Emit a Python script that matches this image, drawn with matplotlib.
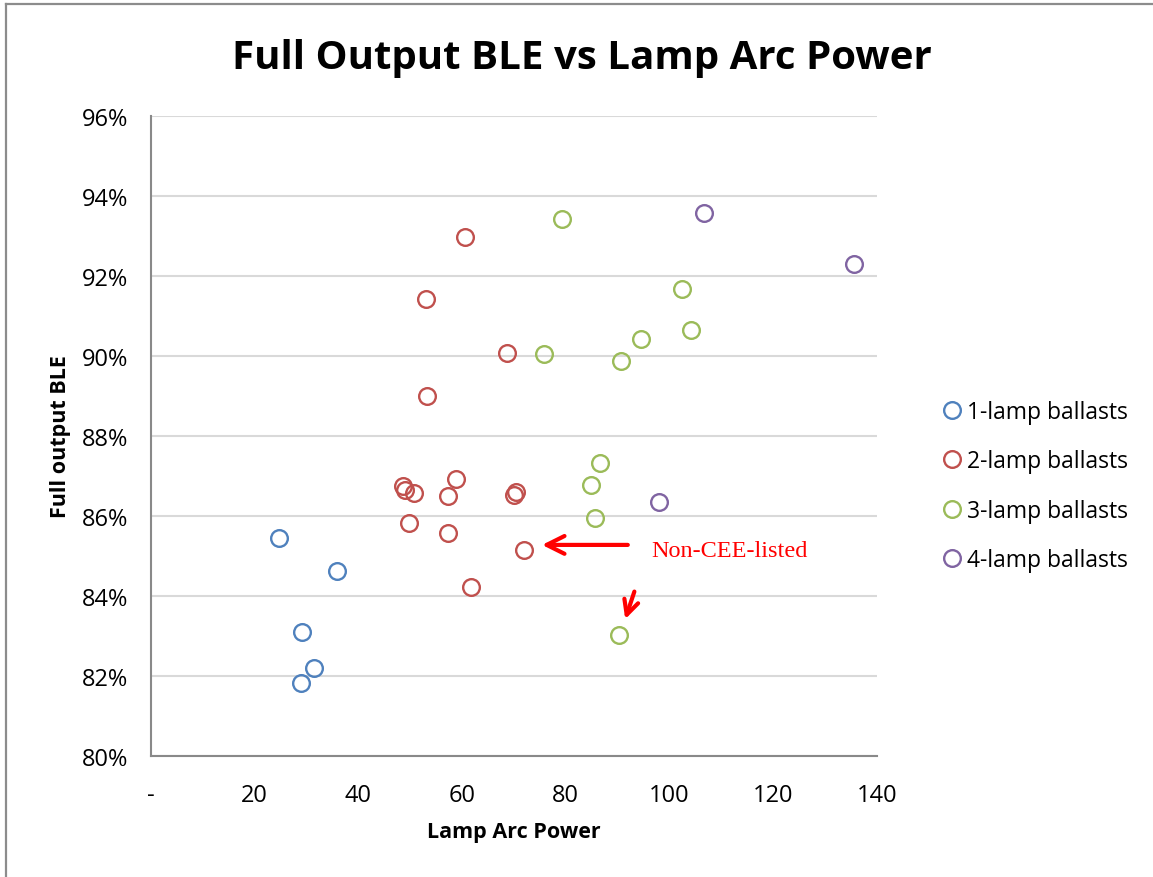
import matplotlib
matplotlib.use("Agg")
import matplotlib.pyplot as plt
from matplotlib.lines import Line2D
from matplotlib.ticker import FuncFormatter

# ---- data ----
series_names = ["1-lamp ballasts", "2-lamp ballasts", "3-lamp ballasts", "4-lamp ballasts"]
series_colors = ["#4F81BD", "#C0504D", "#9BBB59", "#8064A2"]

one_lamp_x = [24.8, 35.9, 29.2, 31.4, 29.0]
one_lamp_y = [85.46, 84.63, 83.11, 82.21, 81.83]

two_lamp_x = [60.6, 53.0, 68.7, 53.2, 48.7, 49.1, 50.8, 58.8, 57.4, 70.5, 70.1, 49.7, 57.4, 72.0, 61.7]
two_lamp_y = [92.98, 91.41, 90.07, 89.00, 86.76, 86.66, 86.58, 86.92, 86.49, 86.59, 86.53, 85.82, 85.58, 85.15, 84.24]

three_lamp_x = [79.2, 102.5, 104.1, 94.6, 90.7, 75.9, 86.7, 84.9, 85.6, 90.3]
three_lamp_y = [93.42, 91.66, 90.66, 90.43, 89.87, 90.06, 87.33, 86.78, 85.94, 83.03]

four_lamp_x = [106.6, 135.5, 98.0]
four_lamp_y = [93.58, 92.30, 86.34]

x_ticks = [0, 20, 40, 60, 80, 100, 120, 140]
y_ticks = [80, 82, 84, 86, 88, 90, 92, 94, 96]

title = "Full Output BLE vs Lamp Arc Power"
x_label = "Lamp Arc Power"
y_label = "Full output BLE"
note_text = "Non-CEE-listed"

# ---- figure ----
W, H, DPI = 1153, 878, 100
fig = plt.figure(figsize=(W / DPI, H / DPI), dpi=DPI)
fig.patch.set_facecolor("white")

def fx(px):
    return px / W

def fy(py):
    return 1 - py / H

ax = fig.add_axes([fx(150.7), fy(757.3), fx(877) - fx(150.7), fy(116.7) - fy(757.3)])

font = "Open Sans"
xs = [one_lamp_x, two_lamp_x, three_lamp_x, four_lamp_x]
ys = [one_lamp_y, two_lamp_y, three_lamp_y, four_lamp_y]
for sx, sy, name, c in zip(xs, ys, series_names, series_colors):
    ax.plot(sx, sy, linestyle="none", marker="o", ms=12, mfc="none", mec=c,
            mew=1.7, label=name, zorder=3)

ax.set_xlim(0, 140)
ax.set_ylim(80, 96)
ax.set_xticks(x_ticks)
ax.set_yticks(y_ticks)
ax.xaxis.set_major_formatter(FuncFormatter(lambda v, p: "-" if v == 0 else f"{v:.0f}"))
ax.yaxis.set_major_formatter(FuncFormatter(lambda v, p: f"{v:.0f}%"))
ax.tick_params(axis="both", length=0, labelsize=17, colors="black")
ax.tick_params(axis="y", pad=16)
ax.tick_params(axis="x", pad=19)
for lab in ax.get_xticklabels() + ax.get_yticklabels():
    lab.set_fontfamily(font)

ax.grid(axis="y", color="#D9D9D9", lw=1.5, zorder=0)
ax.set_axisbelow(True)
for s in ["top", "right"]:
    ax.spines[s].set_visible(False)
for s in ["left", "bottom"]:
    ax.spines[s].set_color("#898989")
    ax.spines[s].set_linewidth(1.5)

ax.set_xlabel(x_label, fontsize=15.5, fontweight="bold", family=font, labelpad=10)
ax.set_ylabel(y_label, fontsize=15.5, fontweight="bold", family=font, labelpad=8)

fig.text(0.505, fy(58), title, fontsize=29, fontweight="bold", family=font,
         ha="center", va="center")

# annotations
ax.annotate("", xy=(74.9, 85.28), xytext=(92.5, 85.28),
            arrowprops=dict(arrowstyle="->", color="red", lw=3, mutation_scale=32))
ax.annotate("", xy=(91.3, 83.36), xytext=(93.4, 84.18),
            arrowprops=dict(arrowstyle="->", color="red", lw=3, mutation_scale=26))
ax.text(96.4, 85.13, note_text, color="red", fontsize=17.5,
        family="Liberation Serif", va="center", ha="left")

# legend
leg = fig.legend(loc="center left", bbox_to_anchor=(fx(941), fy(487)),
                 bbox_transform=fig.transFigure, frameon=False,
                 prop={"family": font, "size": 16.5}, handletextpad=0.15,
                 labelspacing=1.1, markerscale=1.0, handlelength=1.0,
                 borderpad=0, borderaxespad=0)

# figure frame (left & top)
fig.add_artist(Line2D([fx(5.5), fx(5.5)], [0, fy(4.5)], color="#8C8C8C", lw=1.6))
fig.add_artist(Line2D([fx(5.5), 1], [fy(4.5), fy(4.5)], color="#8C8C8C", lw=1.6))

fig.savefig("out.png", dpi=DPI, facecolor="white")
